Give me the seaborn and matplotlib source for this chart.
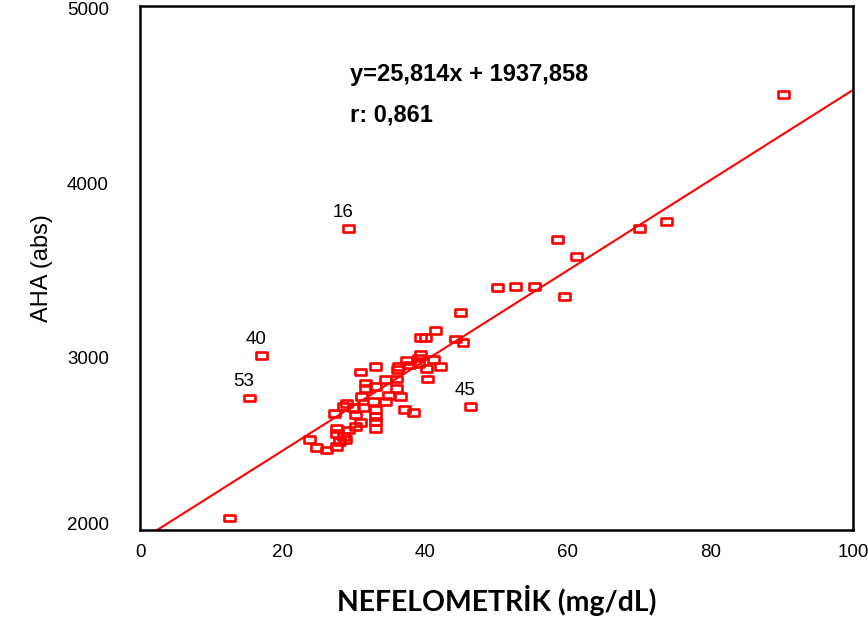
import numpy as np
import pandas as pd
import matplotlib
matplotlib.use("Agg")
import matplotlib.pyplot as plt
from matplotlib.path import Path
from matplotlib.transforms import ScaledTranslation
import seaborn as sns

# ---- data ----
nefelometrik = [12.5, 15.3, 17.0, 29.3, 46.3, 90.2, 73.9, 70.1, 61.2, 59.5,
                58.5, 55.3, 52.7, 50.2, 45.0, 41.4, 39.3, 40.0, 44.3, 45.3,
                39.3, 39.0, 37.4, 41.1, 42.1, 40.2, 39.0, 36.3, 36.1, 37.8,
                40.3, 33.0, 30.9, 34.4, 36.0, 31.6, 31.6, 36.0, 33.0, 31.1,
                34.9, 36.5, 32.7, 34.4, 29.0, 28.5, 29.9, 31.3, 33.0, 27.3,
                30.2, 37.1, 38.3, 33.0, 30.9, 33.0, 30.2, 33.0, 27.6, 29.2,
                27.6, 28.5, 23.8, 28.0, 28.8, 24.7, 26.2, 27.6]
aha = [2069, 2756, 2997, 3725, 2705, 4493, 3765, 3725, 3564, 3335,
       3662, 3392, 3392, 3387, 3243, 3140, 3104, 3104, 3094, 3073,
       3003, 2985, 2970, 2974, 2936, 2926, 2955, 2936, 2917, 2945,
       2865, 2936, 2904, 2860, 2864, 2841, 2812, 2812, 2821, 2764,
       2768, 2764, 2735, 2735, 2726, 2707, 2703, 2703, 2688, 2669,
       2659, 2688, 2674, 2649, 2615, 2621, 2592, 2583, 2583, 2573,
       2554, 2535, 2520, 2506, 2516, 2474, 2458, 2477]
labelled_ids = ["53", "40", "16", "45"]
labelled_x = [15.3, 17.0, 29.3, 46.3]
labelled_y = [2756, 2997, 3725, 2705]
slope = 25.814
intercept = 1937.858
r_value = "0,861"
x_ticks = [0, 20, 40, 60, 80, 100]
y_ticks = [2000, 3000, 4000, 5000]

df = pd.DataFrame({"x": nefelometrik, "y": aha})

sns.set_style("white")
plt.rcParams["font.family"] = ["Liberation Sans", "DejaVu Sans"]
plt.rcParams["text.color"] = "black"
plt.rcParams["axes.labelcolor"] = "black"
plt.rcParams["xtick.color"] = "black"
plt.rcParams["ytick.color"] = "black"

W, H = 868, 624
fig = plt.figure(figsize=(W / 100, H / 100), dpi=100)
ax = fig.add_axes([140 / W, 1 - 530 / H, (853 - 140) / W, (530 - 6) / H])

rect = Path([(-1, -0.62), (1, -0.62), (1, 0.62), (-1, 0.62), (-1, -0.62)],
            [Path.MOVETO, Path.LINETO, Path.LINETO, Path.LINETO, Path.CLOSEPOLY])

sns.scatterplot(data=df, x="x", y="y", ax=ax, marker=rect, s=62,
                facecolors="none", edgecolor="#ff0000", linewidth=1.9, zorder=3)

xl = np.array([0, 100])
sns.lineplot(x=xl, y=slope * xl + intercept, ax=ax, color="#ff0000",
             linewidth=1.5, zorder=2)

for lab, lx, ly in zip(labelled_ids, labelled_x, labelled_y):
    ax.annotate(lab, (lx, ly), xytext=(-4, 11.5), textcoords="offset points",
                ha="center", va="center", fontsize=13.5, color="black")

eq = f"y={str(slope).replace('.', ',')}x + {str(intercept).replace('.', ',')}"
fig.text(350 / W, 1 - 74 / H, eq, fontsize=17, fontweight="bold",
         va="center", ha="left")
fig.text(350 / W, 1 - 115 / H, f"r: {r_value}", fontsize=17,
         fontweight="bold", va="center", ha="left")

ax.set_xlim(0, 100)
ax.set_ylim(2000, 5000)
ax.set_xticks(x_ticks)
ax.set_yticks(y_ticks)
ax.tick_params(axis="both", direction="out", length=3.5, width=3.5, color="black",
               labelsize=13.5, labelcolor="black")
ax.tick_params(axis="y", pad=19)
ax.tick_params(axis="x", pad=6.5)
for sp in ax.spines.values():
    sp.set_visible(True)
    sp.set_color("black")
    sp.set_linewidth(1.8)

# SPSS style: lowest y label nudged up, the others slightly down
ylabels = ax.get_yticklabels()
for i, t in enumerate(ylabels):
    dy = 6 if i == 0 else -2.5
    t.set_transform(t.get_transform() + ScaledTranslation(0, dy / 100, fig.dpi_scale_trans))

ax.set_ylabel("AHA (abs)", fontsize=17, labelpad=10)
ax.set_xlabel("NEFELOMETRİK (mg/dL)", fontsize=20.4, fontweight="bold",
              family=["Lato", "DejaVu Sans"], labelpad=17)

fig.savefig("out.png", dpi=100)
